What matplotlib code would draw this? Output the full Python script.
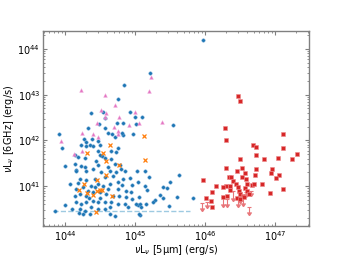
import numpy as np
import matplotlib
matplotlib.use("Agg")
import matplotlib.pyplot as plt

# log10 luminosities
blue_x = [45.97, 45.21, 44.84, 44.76, 44.37, 44.54, 44.57, 44.93, 45.00, 45.10, 45.01, 44.74, 44.83, 44.49,
          44.33, 45.54, 44.97, 44.83, 44.57, 44.61, 44.67, 44.71, 44.81, 43.91, 43.96, 44.00, 44.14, 44.19,
          44.23, 44.27, 44.30, 44.30, 44.36, 44.40, 44.47, 44.50, 44.66, 44.73, 44.47, 44.53, 44.29, 44.44,
          44.57, 44.66, 44.71, 44.14, 44.23, 44.29, 44.16, 44.39, 44.50, 44.47, 44.76, 44.64, 44.79, 45.03,
          44.96, 45.17, 45.29, 45.36, 45.46, 45.50, 45.40, 45.04, 45.07, 44.71, 44.00, 43.86, 44.20, 44.86,
          44.93, 44.83, 45.04, 45.14, 45.20, 45.14, 45.06, 45.63, 45.40, 45.26, 45.16, 45.07, 45.01, 45.09,
          45.06, 45.49, 45.83, 44.87, 44.87, 44.86, 44.90, 45.60,
          44.16, 44.30, 44.40, 44.51, 44.61, 44.73, 44.80, 44.21, 44.30, 44.43, 44.57, 44.69, 44.76, 44.16,
          44.26, 44.37, 44.47, 44.54, 44.64, 44.76, 44.14, 44.21, 44.30, 44.40, 44.50, 44.59, 44.69, 44.77,
          44.16, 44.23, 44.30, 44.40, 44.47, 44.57, 44.66, 44.76, 44.21, 44.29, 44.37, 44.47, 44.57, 44.64,
          44.26, 44.36, 44.64, 44.33, 44.43, 44.19, 44.61, 44.50, 44.34, 44.10, 44.07, 44.81, 44.94, 44.96]
blue_y = [44.20, 43.48, 43.22, 42.91, 42.59, 42.63, 42.48, 42.61, 42.50, 42.52, 42.35, 42.39, 42.37, 42.35,
          42.26, 42.33, 42.15, 42.11, 42.28, 42.17, 42.13, 42.07, 42.17, 42.15, 41.83, 41.43, 41.67, 41.63,
          41.91, 42.02, 41.96, 41.87, 41.89, 41.87, 41.98, 41.89, 41.76, 41.74, 41.76, 41.65, 41.61, 41.54,
          41.61, 41.59, 41.48, 41.48, 41.43, 41.41, 41.35, 42.04, 41.67, 41.46, 41.83, 41.33, 41.46, 41.33,
          41.02, 40.91, 40.70, 40.80, 40.96, 41.09, 40.98, 40.59, 40.37, 40.35, 40.59, 40.46, 40.41, 41.33,
          41.17, 41.15, 41.09, 41.33, 41.20, 41.00, 40.76, 41.24, 40.74, 40.65, 40.61, 40.61, 40.61, 40.54,
          40.39, 40.57, 40.74, 40.89, 40.76, 40.61, 40.54, 40.76,
          41.33, 41.33, 41.37, 41.30, 41.41, 41.30, 41.37, 41.15, 41.13, 41.15, 41.20, 41.22, 41.09, 40.93,
          40.98, 41.00, 41.04, 41.00, 41.04, 40.93, 40.78, 40.83, 40.78, 40.87, 40.87, 40.83, 40.78, 40.78,
          40.65, 40.61, 40.65, 40.67, 40.65, 40.65, 40.65, 40.61, 40.50, 40.46, 40.54, 40.50, 40.50, 40.54,
          40.39, 40.39, 40.39, 40.89, 40.98, 41.07, 40.93, 40.74, 40.74, 40.50, 41.04, 41.02, 40.87, 40.72]

pink_x = [45.23, 44.23, 44.57, 45.20, 44.71, 44.51, 44.59, 45.00, 44.77, 44.57, 45.06, 45.39, 44.70, 44.91,
          44.46, 43.94, 44.13, 44.24, 44.40, 44.76, 44.76, 44.47, 44.24]
pink_y = [43.39, 43.09, 43.00, 43.07, 42.78, 42.67, 42.59, 42.63, 42.52, 42.52, 42.39, 42.41, 42.30, 42.33,
          42.37, 41.98, 41.70, 42.17, 42.13, 42.20, 42.13, 42.07, 41.76]

orange_x = [45.13, 45.14, 44.64, 44.31, 44.54, 44.59, 44.77, 44.59, 44.27, 44.20, 44.46, 44.46, 44.50, 44.31,
            44.40, 44.67, 44.44, 44.53]
orange_y = [42.09, 41.57, 41.91, 41.72, 41.72, 41.54, 41.46, 41.24, 41.04, 40.91, 41.13, 40.89, 40.91, 40.85,
            40.80, 40.78, 40.43, 40.91]

red_x = [46.47, 46.50, 46.29, 46.30, 46.69, 46.73, 47.11, 47.11, 46.73, 47.31, 46.50, 46.84, 47.04, 47.24,
         46.30, 46.53, 46.73, 46.96, 46.46, 46.57, 46.71, 46.94, 47.06, 47.01, 46.34, 46.37, 46.53, 46.59,
         45.97, 46.16, 46.40, 46.44, 46.30, 46.26, 46.36, 46.47, 46.60, 46.67, 46.70, 46.81, 46.36, 46.57,
         47.11, 46.10, 46.49, 46.60, 46.93, 46.31, 46.50, 46.54, 46.01, 46.46, 46.50, 46.56, 46.63, 46.09,
         46.26, 46.10]
red_y = [42.98, 42.85, 42.26, 42.00, 41.89, 41.85, 42.13, 41.83, 41.67, 41.70, 41.59, 41.59, 41.61, 41.59,
         41.39, 41.39, 41.37, 41.37, 41.33, 41.28, 41.24, 41.28, 41.24, 41.17, 41.20, 41.20, 41.20, 41.15,
         41.13, 41.00, 41.11, 41.04, 41.00, 40.98, 41.00, 40.98, 41.04, 41.02, 41.04, 41.04, 40.91, 40.96,
         40.93, 40.87, 40.89, 40.89, 40.85, 40.78, 40.83, 40.78, 40.74, 40.74, 40.72, 40.76, 40.83, 40.67,
         40.76, 40.54]

# upper limits: x, top, arrow tip
lim_x = [45.96, 46.03, 46.26, 46.31, 46.40, 46.47, 46.54, 46.63, 46.66, 46.50, 46.59]
lim_top = [40.63, 40.65, 40.76, 40.72, 40.89, 40.74, 40.74, 40.54, 40.89, 40.87, 40.87]
lim_bot = [40.46, 40.52, 40.54, 40.54, 40.67, 40.54, 40.57, 40.37, 40.78, 40.63, 40.76]

floor_y = 40.46
floor_x = [43.83, 45.79]

p = lambda v: 10 ** np.array(v)

fig = plt.figure(figsize=(3.44, 2.58), dpi=100)
ax = fig.add_axes([0.125, 0.124, 0.773, 0.756])

ax.plot(p(floor_x), p([floor_y, floor_y]), ls='--', color='#9ecae1', lw=1.0, zorder=1)

ax.vlines(p(lim_x), p(lim_bot), p(lim_top), color='#e8767a', lw=0.8, zorder=2)
ax.plot(p(lim_x), p(lim_top), ls='none', marker='_', ms=3, mew=0.8, color='#e8767a', zorder=2)
ax.plot(p(lim_x), p(lim_bot), ls='none', marker=7, ms=3, color='#e8767a', zorder=2)

ax.plot(p(blue_x), p(blue_y), ls='none', marker='o', ms=2.5, mew=0.3, mfc='#1f77b4', mec='#6fa8d6', zorder=3)
ax.plot(p(red_x), p(red_y), ls='none', marker='s', ms=2.7, mew=0.4, mfc='#d62728', mec='#ee8a8b', zorder=3)
ax.plot(p(pink_x), p(pink_y), ls='none', marker='^', ms=2.7, mew=0.3, mfc='#e377c2', mec='#f0a8dc', zorder=4)
ax.plot(p(orange_x), p(orange_y), ls='none', marker='x', ms=2.8, mew=0.9, color='#ff7f0e', zorder=4)

ax.set_xscale('log')
ax.set_yscale('log')
ax.set_xlim(10 ** 43.686, 10 ** 47.486)
ax.set_ylim(10 ** 40.13, 10 ** 44.39)

for s in ax.spines.values():
    s.set_color('#808080')
    s.set_linewidth(1.0)
ax.tick_params(which='both', direction='in', top=True, right=True, colors='#808080', labelcolor='black',
               labelsize=7, pad=2)
ax.tick_params(which='major', length=3)
ax.tick_params(which='minor', length=1.5)

ax.set_xlabel(r'$\nu$L$_\nu$ [5μm] (erg/s)', fontsize=7, labelpad=0)
ax.set_ylabel(r'$\nu$L$_\nu$ [6GHz] (erg/s)', fontsize=7, labelpad=1)

fig.savefig('out.png', dpi=100)
